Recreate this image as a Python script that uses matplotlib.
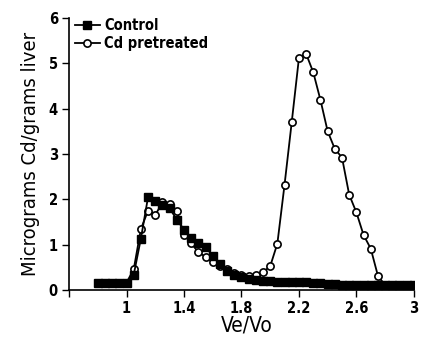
import numpy as np
import matplotlib
matplotlib.use('Agg')
import matplotlib.pyplot as plt

plt.rcParams['font.family'] = ['DejaVu Sans']
plt.rcParams['font.stretch'] = 'condensed'
plt.rcParams['font.weight'] = 'bold'

#-----data---------------------------#
ve_vo = [0.80, 0.85, 0.90, 0.95, 1.00, 1.05, 1.10, 1.15, 1.20, 1.25,
         1.30, 1.35, 1.40, 1.45, 1.50, 1.55, 1.60, 1.65, 1.70, 1.75,
         1.80, 1.85, 1.90, 1.95, 2.00, 2.05, 2.10, 2.15, 2.20, 2.25,
         2.30, 2.35, 2.40, 2.45, 2.50, 2.55, 2.60, 2.65, 2.70, 2.75,
         2.80, 2.85, 2.90, 2.95, 3.00]

control = [0.15, 0.15, 0.15, 0.15, 0.16, 0.33, 1.13, 2.05, 1.95, 1.88,
           1.80, 1.55, 1.32, 1.15, 1.03, 0.95, 0.75, 0.57, 0.42, 0.33,
           0.28, 0.25, 0.22, 0.20, 0.19, 0.18, 0.17, 0.17, 0.18, 0.18,
           0.16, 0.15, 0.13, 0.12, 0.11, 0.10, 0.10, 0.10, 0.10, 0.10,
           0.10, 0.10, 0.11, 0.11, 0.11]

cd_pre = [0.15, 0.15, 0.15, 0.15, 0.16, 0.45, 1.34, 1.75, 1.65, 1.93,
          1.90, 1.75, 1.22, 1.03, 0.83, 0.73, 0.62, 0.53, 0.46, 0.38,
          0.33, 0.30, 0.32, 0.39, 0.52, 1.02, 2.32, 3.70, 5.11, 5.21,
          4.80, 4.19, 3.50, 3.11, 2.92, 2.10, 1.71, 1.21, 0.91, 0.31,
          0.10, 0.10, 0.11, 0.11, 0.11]

xticks = [0.6, 1.0, 1.4, 1.8, 2.2, 2.6, 3.0]
xticklabels = ['', '1', '1.4', '1.8', '2.2', '2.6', '3']
yticks = [0, 1, 2, 3, 4, 5, 6]

fig = plt.figure(figsize=(4.21, 3.39), dpi=100)
ax = fig.add_axes([0.164, 0.145, 0.819, 0.802])

ax.plot(ve_vo, cd_pre, 'k-', lw=1.3, marker='o', ms=5.2, mfc='white',
        mec='black', mew=1.2, label='Cd pretreated', zorder=2)
ax.plot(ve_vo, control, 'k-', lw=1.3, marker='s', ms=5.2, mfc='black',
        mec='black', label='Control', zorder=3)

ax.set_xlim(0.6, 3.0)
ax.set_ylim(0, 6)
ax.set_xticks(xticks)
ax.set_xticklabels(xticklabels)
ax.set_yticks(yticks)
ax.tick_params(direction='out', length=5, width=1, labelsize=10.5, pad=3)
for s in ['top', 'right']:
    ax.spines[s].set_visible(False)
for s in ['left', 'bottom']:
    ax.spines[s].set_linewidth(1.2)

ax.set_xlabel('Ve/Vo', fontsize=15, fontweight='normal', labelpad=2)
ax.xaxis.set_label_coords(0.515, -0.095)
ax.set_ylabel('Micrograms Cd/grams liver', fontsize=14.5, fontweight='normal', labelpad=6)

h, l = ax.get_legend_handles_labels()
ax.legend(h[::-1], l[::-1], loc='upper left', frameon=False, fontsize=10.5,
          handlelength=1.7, handletextpad=0.3, labelspacing=0.2,
          borderaxespad=0.0, bbox_to_anchor=(0.0, 1.02))

fig.savefig('out.png', dpi=100)
